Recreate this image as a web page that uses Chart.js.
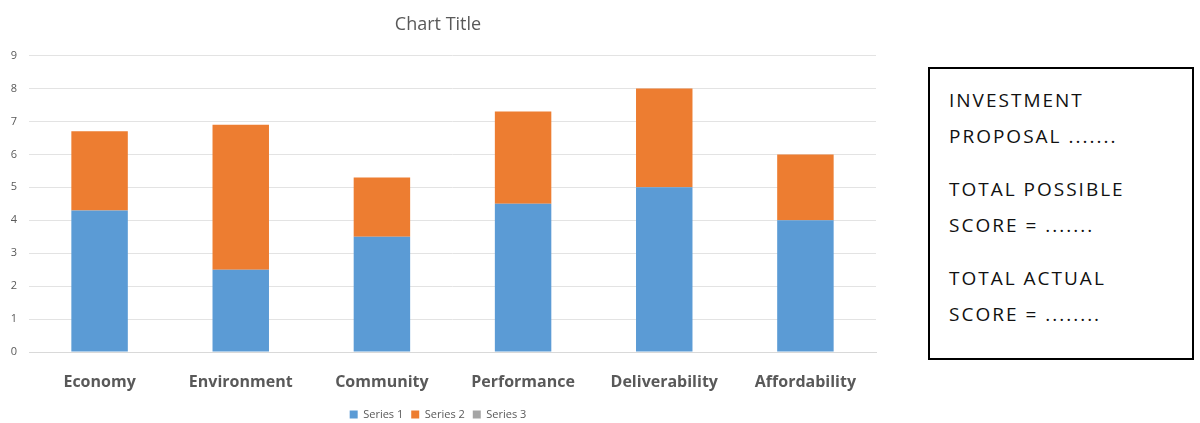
<!DOCTYPE html>
<html>
<head>
<script src="https://cdn.jsdelivr.net/npm/chart.js@4.4.1/dist/chart.umd.min.js"></script>
<style>
  body { margin: 0; background: #fff; width: 1200px; height: 423px; overflow: hidden; position: relative; }
  #chartWrap { position: absolute; left: 0; top: 0; width: 890px; height: 423px; }
  #infoBox {
    position: absolute; left: 928px; top: 67px; width: 266px; height: 293px;
    border: 2px solid #000; box-sizing: border-box;
    font-family: "Open Sans", sans-serif; font-size: 19px; color: #111;
    letter-spacing: 2px; padding: 13px 0 0 19px; line-height: 36px;
  }
  #infoBox p { margin: 0 0 17px 0; }
</style>
</head>
<body>
<div id="chartWrap"><canvas id="myChart"></canvas></div>
<div id="infoBox">
  <p>INVESTMENT<br>PROPOSAL .......</p>
  <p>TOTAL POSSIBLE<br>SCORE = .......</p>
  <p>TOTAL ACTUAL<br>SCORE = ........</p>
</div>

<script>
var categories = ["Economy", "Environment", "Community", "Performance", "Deliverability", "Affordability"]
var series1 = [4.3, 2.5, 3.5, 4.5, 5, 4]
var series2 = [2.4, 4.4, 1.8, 2.8, 3, 2]
var series3 = [0, 0, 0, 0, 0, 0]
var yTicks = [0, 1, 2, 3, 4, 5, 6, 7, 8, 9]

var grey = '#595959'
var ctx = document.getElementById("myChart").getContext('2d')
var myChart = new Chart(ctx, {
  type: 'bar',
  data: {
    labels: categories,
    datasets: [
      { label: 'Series 1', data: series1, backgroundColor: '#5B9BD5' },
      { label: 'Series 2', data: series2, backgroundColor: '#ED7D31' },
      { label: 'Series 3', data: series3, backgroundColor: '#A5A5A5' }
    ]
  },
  options: {
    responsive: true,
    maintainAspectRatio: false,
    animation: false,
    layout: { padding: { left: 0, right: 14, top: 0, bottom: -7 } },
    datasets: { bar: { categoryPercentage: 1, barPercentage: 0.4 } },
    plugins: {
      title: {
        display: true, text: 'Chart Title', color: grey,
        font: { family: 'Open Sans', size: 18, weight: 'normal' },
        padding: { top: 14, bottom: 20 }
      },
      legend: {
        position: 'bottom',
        labels: {
          color: grey, boxWidth: 8, boxHeight: 8, padding: 8,
          font: { family: 'Open Sans', size: 11 }
        }
      },
      tooltip: { enabled: false }
    },
    scales: {
      x: {
        stacked: true,
        afterFit: function (scale) { scale.height = 49 },
        grid: { display: false, drawTicks: false },
        border: { color: '#d9d9d9' },
        ticks: { color: grey, padding: 21, font: { family: 'Open Sans', size: 16, weight: 'bold' } }
      },
      y: {
        stacked: true, min: 0, max: 9,
        afterFit: function (scale) { scale.width = 29 },
        afterBuildTicks: function (scale) { scale.ticks = yTicks.map(function (v) { return { value: v } }) },
        grid: { color: '#e3e3e3', drawTicks: false },
        border: { display: false },
        ticks: { color: grey, padding: 12, font: { family: 'Open Sans', size: 11 } }
      }
    }
  }
})
</script>
</body>
</html>
